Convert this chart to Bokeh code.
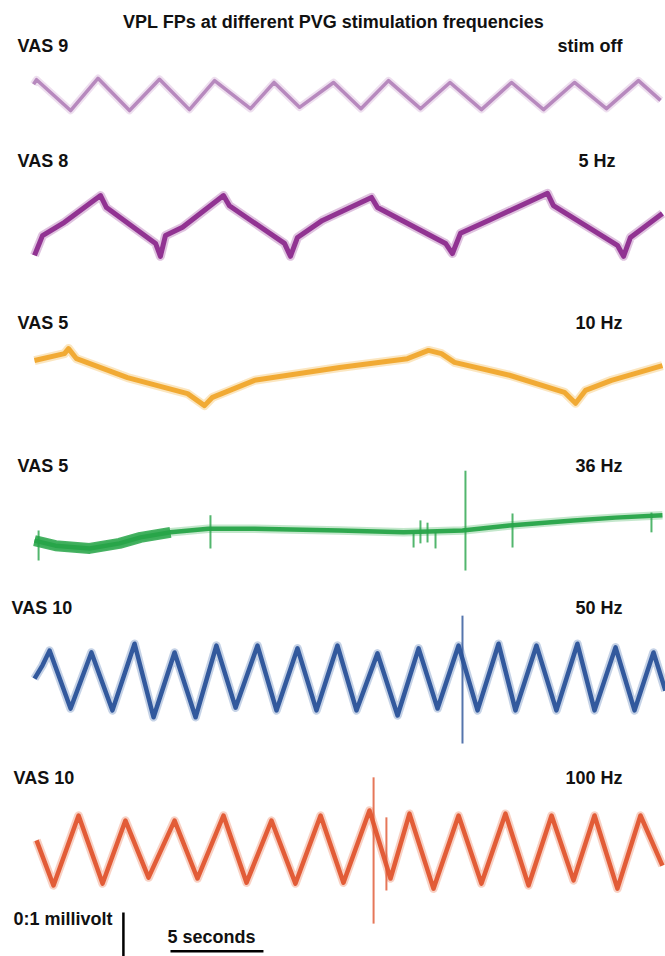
from bokeh.plotting import figure
from bokeh.models import Range1d, Label
from bokeh.embed import file_html
from bokeh.resources import INLINE

# ---------------- data (time in s, amplitude in microvolts relative to trace baseline) ----------------
title = "VPL FPs at different PVG stimulation frequencies"
vas_labels = ["VAS 9", "VAS 8", "VAS 5", "VAS 5", "VAS 10", "VAS 10"]
freq_labels = ["stim off", "5 Hz", "10 Hz", "36 Hz", "50 Hz", "100 Hz"]

t1 = [-0.05, 0.11, 1.94, 3.41, 5.11, 6.72, 8.33, 9.68, 11.61, 12.88, 14.25, 16.08, 17.55, 19.03,
      20.75, 22.34, 24.03, 25.65, 27.37, 29.03, 30.75, 32.47, 33.66]
v1 = [20, 30, -37, 33, -37, 31, -35, 28, -33, 24, -30, 24, -33, 28, -33, 24, -35, 24, -35, 24, -33, 28, -15]

t2 = [0, 0.43, 1.61, 3.55, 3.87, 6.51, 6.77, 7.04, 7.96, 10.16, 10.48, 13.44, 13.76, 14.14, 15.48,
      18.12, 18.44, 22.10, 22.47, 22.90, 24.41, 27.58, 27.90, 31.34, 31.67, 32.04, 33.76]
v2 = [-65, -22, 7, 65, 39, -39, -67, -22, -4, 65, 43, -39, -67, -26, 11, 61, 39, -39, -61, -17, 11,
      70, 43, -43, -67, -26, 26]

t3 = [0, 1.61, 1.83, 2.26, 5.00, 8.23, 9.14, 9.57, 11.83, 16.40, 20.05, 21.18, 21.88, 22.58, 25.54,
      28.49, 29.09, 29.62, 31.02, 33.76]
v3 = [39, 54, 65, 43, 2, -33, -59, -41, -4, 24, 43, 61, 54, 35, 7, -30, -54, -26, -4, 28]

t4 = [0, 1.13, 2.96, 4.57, 5.70, 7.31, 9.35, 11.83, 16.40, 19.84, 23.01, 25.54, 28.98, 31.24, 33.76]
v4 = [-22, -33, -39, -28, -15, -4, 4, 4, 0, -4, 0, 11, 22, 28, 33]
spike4_t = [0.22, 9.46, 20.38, 20.75, 21.13, 21.56, 23.17, 25.70, 33.17]
spike4_top = [0, 33, -7, 22, 17, -4, 130, 37, 39]
spike4_bot = [-65, -39, -37, -28, -26, -39, -87, -37, -4]

t5 = [0, 0.43, 0.81, 1.94, 3.06, 4.19, 5.38, 6.40, 7.53, 8.66, 9.78, 10.81, 11.99, 13.01, 14.14,
      15.16, 16.29, 17.31, 18.44, 19.52, 20.65, 21.67, 22.80, 23.82, 24.95, 25.86, 26.99, 28.06,
      29.19, 30.11, 31.24, 32.26, 33.28, 33.92]
v5 = [4, 33, 65, -61, 61, -65, 80, -80, 61, -80, 76, -59, 76, -65, 70, -65, 76, -65, 59, -76, 70,
      -61, 76, -65, 80, -65, 76, -65, 80, -65, 72, -65, 61, -22]
spike5_t = [23.01]
spike5_top = [141]
spike5_bot = [-137]

t6 = [0.11, 1.02, 2.37, 3.66, 4.89, 6.13, 7.53, 8.76, 10.16, 11.40, 12.74, 14.03, 15.38, 16.61,
      18.01, 19.14, 20.16, 21.45, 22.80, 24.03, 25.32, 26.56, 27.80, 28.98, 30.11, 31.34, 32.58, 33.76]
v6 = [22, -76, 76, -72, 65, -59, 65, -61, 76, -70, 65, -72, 76, -70, 87, -61, 80, -83, 76, -72, 80,
      -76, 76, -65, 76, -83, 76, -33]
spike6_t = [18.23, 18.92]
spike6_top = [159, 72]
spike6_bot = [-159, -87]

scale_time_s = 5
scale_volt_mv = 0.1

# ---------------- layout / style ----------------
colors = ["#b384bb", "#8c2b8d", "#f0a72c", "#27a448", "#2a5299", "#e0552f"]
halo = ["#d9b8dc", "#b777b8", "#f6c873", "#7cc98f", "#7f9bc8", "#ef9a7d"]
widths = [3.5, 5, 5, 4.5, 4.5, 4.5]
offsets = [-0.2022, -0.4891, -0.8217, -1.1522, -1.4783, -1.8478]   # baseline of each trace, mV
label_y = [911, 796, 634, 491, 349, 179]                            # screen px from bottom
vas_x = [17, 17, 17, 17, 11, 13]
freq_x = [622, 615, 622, 622, 622, 622]

W, H = 665, 956
p = figure(width=W, height=H, x_range=Range1d(-1.828, 33.925), y_range=Range1d(-2.0783, 0),
           output_backend="svg", toolbar_location=None, x_axis_type=None, y_axis_type=None,
           min_border=0, min_border_left=0, min_border_right=0, min_border_top=0, min_border_bottom=0)
p.grid.visible = False
p.outline_line_color = None
p.background_fill_color = "white"
p.border_fill_color = "white"

traces = [(t1, v1), (t2, v2), (t3, v3), (t4, v4), (t5, v5), (t6, v6)]
spikes = {3: (spike4_t, spike4_top, spike4_bot),
          4: (spike5_t, spike5_top, spike5_bot),
          5: (spike6_t, spike6_top, spike6_bot)}

for i, (tt, vv) in enumerate(traces):
    yy = [v / 1000.0 + offsets[i] for v in vv]
    p.line(tt, yy, line_color=halo[i], line_width=widths[i] + 4, line_alpha=0.45, line_join="round")
    p.line(tt, yy, line_color=colors[i], line_width=widths[i], line_alpha=0.95, line_join="round")
    if i == 3:
        # thicker, noisier beginning of the 36 Hz trace
        p.line(tt[:6], yy[:6], line_color=colors[i], line_width=11, line_alpha=0.85, line_join="round")
    if i in spikes:
        st, stop, sbot = spikes[i]
        p.segment(x0=st, x1=st, y0=[s / 1000.0 + offsets[i] for s in stop],
                  y1=[s / 1000.0 + offsets[i] for s in sbot], line_color=colors[i], line_width=2,
                  line_alpha=0.8)

font = "Liberation Sans"
p.add_layout(Label(x=333, y=935, x_units="screen", y_units="screen", text=title,
                   text_font=font, text_font_style="bold", text_font_size="18px",
                   text_align="center", text_baseline="middle", text_color="#111111"))
for i in range(6):
    p.add_layout(Label(x=vas_x[i], y=label_y[i], x_units="screen", y_units="screen", text=vas_labels[i],
                       text_font=font, text_font_style="bold", text_font_size="18px",
                       text_align="left", text_baseline="middle", text_color="#111111"))
    p.add_layout(Label(x=freq_x[i], y=label_y[i], x_units="screen", y_units="screen", text=freq_labels[i],
                       text_font=font, text_font_style="bold", text_font_size="18px",
                       text_align="right", text_baseline="middle", text_color="#111111"))

# scale bars
bar_t0 = 7.31
bar_y = -2.067
p.segment(x0=[bar_t0], x1=[bar_t0 + scale_time_s], y0=[bar_y], y1=[bar_y], line_color="black", line_width=2.5)
vb_t = 4.78
vb_top = -1.9826
p.segment(x0=[vb_t], x1=[vb_t], y0=[vb_top], y1=[vb_top - scale_volt_mv], line_color="black", line_width=2.5)

p.add_layout(Label(x=13, y=38, x_units="screen", y_units="screen", text="0:1 millivolt",
                   text_font=font, text_font_style="bold", text_font_size="18px",
                   text_align="left", text_baseline="middle", text_color="#111111"))
p.add_layout(Label(x=167, y=20, x_units="screen", y_units="screen", text="5 seconds",
                   text_font=font, text_font_style="bold", text_font_size="18px",
                   text_align="left", text_baseline="middle", text_color="#111111"))

open("out.html", "w").write(file_html(p, INLINE))
